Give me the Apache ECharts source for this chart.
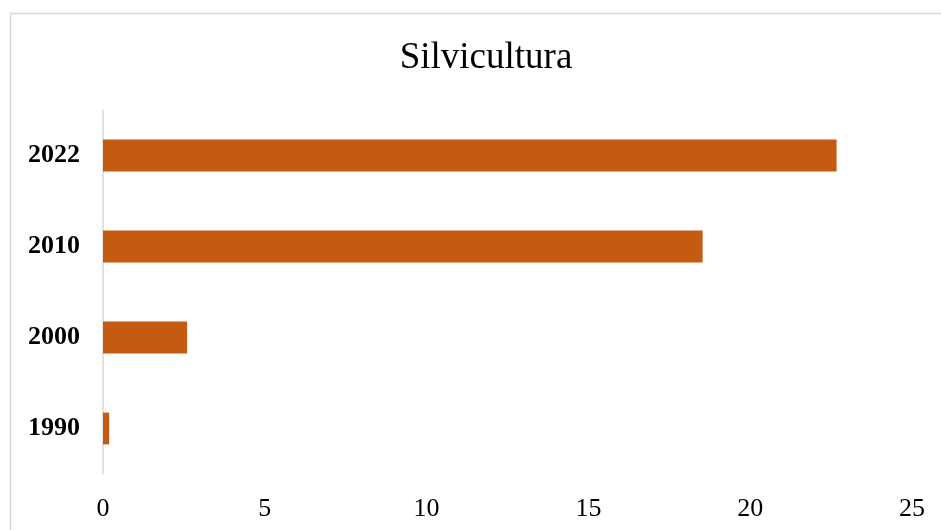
<!DOCTYPE html>
<html lang="pt">
<head>
<meta charset="UTF-8">
<title>Silvicultura</title>
<script src="https://cdn.jsdelivr.net/npm/echarts@6.0.0/dist/echarts.min.js"></script>
<style>
  body, html { margin: 0; padding: 0; background: #fff; }
  #main { width: 941px; height: 530px; }
</style>
</head>
<body>
<div id="main"></div>
<script>
// data
const years = ["1990", "2000", "2010", "2022"];
const values = [0.19, 2.6, 18.53, 22.67];
const ticks = [0, 5, 10, 15, 20, 25];

const serif = "'Liberation Serif', 'Times New Roman', serif";
const chart = echarts.init(document.getElementById("main"));

chart.setOption({
  animation: false,
  backgroundColor: "#fff",
  title: {
    text: "Silvicultura",
    left: 481,
    textAlign: "center",
    top: 35,
    textStyle: { fontFamily: serif, fontSize: 37, fontWeight: "normal", color: "#000" }
  },
  graphic: [{
    type: "rect",
    shape: { x: 10.5, y: 13.5, width: 960, height: 600 },
    style: { fill: "none", stroke: "#d9d9d9", lineWidth: 1.5 },
    silent: true
  }],
  grid: { left: 103, right: 29, top: 110, bottom: 56 },
  xAxis: {
    type: "value",
    min: ticks[0],
    max: ticks[ticks.length - 1],
    interval: 5,
    axisLine: { show: false },
    axisTick: { show: false },
    splitLine: { show: false },
    axisLabel: { fontFamily: serif, fontSize: 26, color: "#000", margin: 22 }
  },
  yAxis: {
    type: "category",
    data: years,
    axisLine: { show: true, lineStyle: { color: "#d9d9d9", width: 1.5 } },
    axisTick: { show: false },
    axisLabel: { fontFamily: serif, fontSize: 26, fontWeight: "bold", color: "#000", margin: 23 }
  },
  series: [{
    type: "bar",
    data: values,
    barWidth: "35%",
    itemStyle: { color: "#C55A11" }
  }]
});
</script>
</body>
</html>
